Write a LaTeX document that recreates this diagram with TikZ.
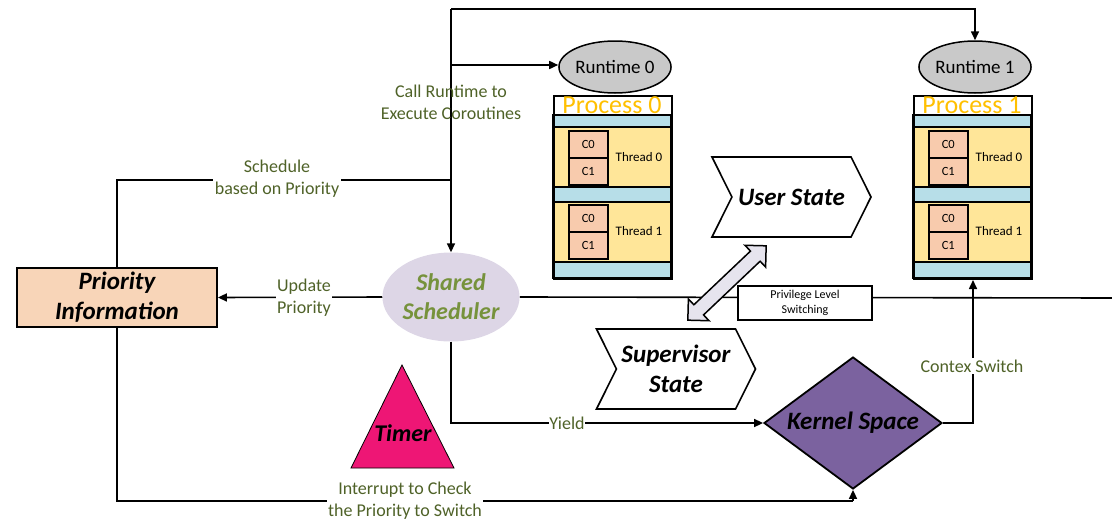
\documentclass[tikz,border=0pt]{standalone}
\usepackage{fontspec}
\setmainfont{Carlito}
\usetikzlibrary{shapes.geometric,shapes.symbols,arrows.meta,calc}
\definecolor{lblgreen}{HTML}{4F6228}
\definecolor{schedgreen}{HTML}{76923C}
\definecolor{schedfill}{HTML}{DDD6E6}
\definecolor{priofill}{HTML}{F8D5B8}
\definecolor{thyellow}{HTML}{FFE699}
\definecolor{bandblue}{HTML}{B7DEE8}
\definecolor{corofill}{HTML}{F8CBAD}
\definecolor{procgold}{HTML}{FFC000}
\definecolor{rtgray}{HTML}{C9C9C9}
\definecolor{kernfill}{HTML}{7B629F}
\definecolor{timerfill}{HTML}{EE1675}
\definecolor{dblfill}{HTML}{E6E4EE}
\begin{document}
\begin{tikzpicture}[x=1pt,y=-1pt,
  conn/.style={line width=1.6pt, draw=black},
  arr/.style={-{Triangle[length=9pt,width=8pt]}},
  lbl/.style={font=\fontsize{18}{22}\selectfont, text=lblgreen, align=center, fill=white, inner sep=1.5pt},
  bigtxt/.style={font=\fontsize{25}{30}\selectfont\bfseries\itshape, align=center},
  band/.style={draw=black, line width=1.6pt},
  corobox/.style={draw=black, line width=1.6pt, fill=corofill, minimum width=39pt, minimum height=27pt, inner sep=0pt, font=\fontsize{12.5}{14}\selectfont},
  chevron/.style={signal, signal from=west, signal to=east, signal pointer angle=127, draw=black, line width=1.6pt, fill=white, minimum width=159pt, minimum height=80pt, inner sep=0pt, bigtxt}
]
\useasboundingbox (0,0) rectangle (1112,530);

% ---------- processes and runtimes ----------
\foreach \i/\x in {0/553,1/913}{
  \fill[white] (\x,95) rectangle ++(118,20);
  \draw[band, fill=bandblue] (\x,115) rectangle ++(118,12);
  \draw[band, fill=thyellow] (\x,127) rectangle ++(118,60);
  \draw[band, fill=bandblue] (\x,187) rectangle ++(118,15);
  \draw[band, fill=thyellow] (\x,202) rectangle ++(118,60);
  \draw[band, fill=bandblue] (\x,262) rectangle ++(118,16);
  \node[corobox, anchor=north west] (c0a\i) at (\x+15,130) {C0};
  \node[corobox, anchor=north west] (c1a\i) at (\x+15,157) {C1};
  \node[corobox, anchor=north west] (c0b\i) at (\x+15,204) {C0};
  \node[corobox, anchor=north west] (c1b\i) at (\x+15,231) {C1};
  \node[font=\fontsize{13}{15}\selectfont] (th0\i) at (\x+86,157) {Thread 0};
  \node[font=\fontsize{13}{15}\selectfont] (th1\i) at (\x+86,231) {Thread 1};
  \node[draw=black, line width=2pt, minimum width=118pt, minimum height=183pt, inner sep=0pt, anchor=north west] (proc\i) at (\x,95) {};
  \node[font=\fontsize{26}{28}\selectfont, text=procgold, inner sep=0pt] (ptitle\i) at (\x+59,105) {Process \i};
  \node[ellipse, draw=black, line width=1.5pt, fill=rtgray, minimum width=106pt, minimum height=52pt, inner sep=0pt, font=\fontsize{19}{22}\selectfont] (rt\i) at (\x+62,67) {Runtime \i};
}

% ---------- main nodes ----------
\node[draw=black, line width=1.8pt, fill=priofill, minimum width=200pt, minimum height=59pt, inner sep=0pt, bigtxt] (prio) at (117,297.5) {Priority\\Information};
\node[ellipse, fill=schedfill, minimum width=124pt, minimum height=89pt, inner sep=0pt, bigtxt, font=\fontsize{24}{29}\selectfont\bfseries\itshape, text=schedgreen] (sched) at (451,297) {Shared\\Scheduler};

\coordinate (top) at (451,9);
\coordinate (br) at (451,65);
\coordinate (sj) at (451,180);
\coordinate (redge) at (1112,298);
\coordinate (bot) at (853,501);

% connectors
\draw[conn] (sched.east) -- (redge);
\draw[conn, arr] (top) -- (sched.north);
\draw[conn, arr] (top) -| (rt1.north);
\draw[conn, arr] (br) -- (br -| rt0.west);
\draw[conn] (prio.north) |- (sj);
\draw[conn, arr] (sched.west) -- (prio.east);

\node[diamond, draw=black, line width=1.8pt, fill=kernfill, minimum width=178pt, minimum height=132pt, inner sep=0pt] (kern) at (853,423) {};
\node[bigtxt] (kerntxt) at (kern.center) {Kernel Space};

\draw[conn, arr] (sched.south) |- (kern.west);
\draw[conn, arr] (kern.east) -| (proc1.south);
\draw[conn] (prio.south) |- (bot);
\draw[conn, arr] (bot) -- (kern.south);

% timer
\coordinate (tA) at (402,365);
\coordinate (tB) at (351,468);
\coordinate (tC) at (454,468);
\draw[fill=timerfill, draw=black, line width=0.8pt] (tA) -- (tB) -- (tC) -- cycle;
\node[bigtxt, font=\fontsize{24}{29}\selectfont\bfseries\itshape] (timer) at (403,433) {Timer};

% states
\node[chevron] (user) at (791.5,197) {User State};
\node[chevron] (super) at (676,369) {Supervisor\\State};
\begin{scope}[shift={(727,283)}, rotate=43.5]
  \draw[line width=1.5pt, fill=dblfill, line join=miter]
    (54pt,0pt) -- (39pt,15pt) -- (39pt,7pt) -- (-39pt,7pt) -- (-39pt,15pt) -- (-54pt,0pt)
    -- (-39pt,-15pt) -- (-39pt,-7pt) -- (39pt,-7pt) -- (39pt,-15pt) -- cycle;
\end{scope}
\node[draw=black, line width=1.3pt, fill=white, minimum width=134pt, minimum height=34pt, inner sep=0pt, align=center, font=\fontsize{12}{15}\selectfont] (priv) at (805,303) {Privilege Level\\Switching};

% labels
\node[lbl, fill=none] (lcall) at (451,102) {Call Runtime to\\Execute Coroutines};
\node[lbl] (lsched) at (277,179) {Schedule\\based on Priority};
\node[lbl] (lupd) at (304,298) {Update\\Priority};
\node[lbl, inner sep=0.5pt] (lyield) at (567,423) {Yield};
\node[lbl] (lctx) at (972,366) {Contex Switch};
\node[lbl] (lint) at (405,501) {Interrupt to Check\\the Priority to Switch};
\end{tikzpicture}
\end{document}
